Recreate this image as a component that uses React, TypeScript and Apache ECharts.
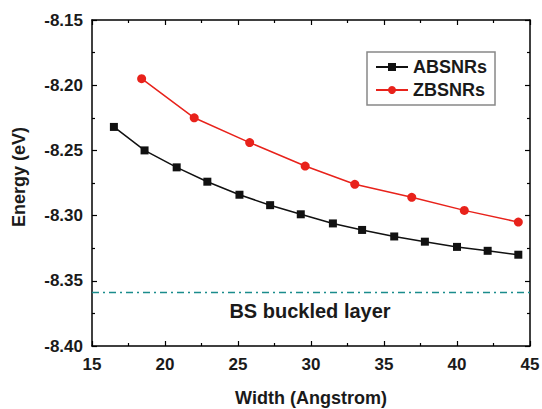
import React, { useEffect, useRef } from "react";
import * as echarts from "echarts";

const abWidth = [16.5, 18.6, 20.8, 22.9, 25.1, 27.2, 29.3, 31.5, 33.5, 35.7, 37.8, 40.0, 42.1, 44.2];
const abEnergy = [-8.232, -8.25, -8.263, -8.274, -8.284, -8.292, -8.299, -8.306, -8.311, -8.316, -8.32, -8.324, -8.327, -8.33];
const zbWidth = [18.4, 22.0, 25.8, 29.6, 33.0, 36.9, 40.5, 44.2];
const zbEnergy = [-8.195, -8.225, -8.244, -8.262, -8.276, -8.286, -8.296, -8.305];
const layerEnergy = -8.359;
const xRange = [15, 45];
const yRange = [-8.4, -8.15];

const FONT = "'Liberation Sans', Arial, sans-serif";

export default function App() {
  const ref = useRef<HTMLDivElement>(null);
  useEffect(() => {
    if (!ref.current) return;
    const chart = echarts.init(ref.current, undefined, { renderer: "svg" });
    const axisLine = { show: true, onZero: false, lineStyle: { color: "#000", width: 1.5 } };
    const tick = { show: true, inside: true, length: 5, lineStyle: { color: "#000", width: 1.2 } };
    const minor = { show: true, splitNumber: 2, length: 3, lineStyle: { color: "#000", width: 1.2 } };
    const label = { fontFamily: FONT, fontWeight: "bold" as const, fontSize: 17, color: "#1a1a1a" };
    chart.setOption({
      animation: false,
      backgroundColor: "#fff",
      grid: { left: 92, right: 12, top: 20, bottom: 63, containLabel: false, outerBoundsMode: "none" },
      legend: {
        left: 367,
        top: 52,
        orient: "vertical",
        data: ["ABSNRs", "ZBSNRs"],
        borderColor: "#888",
        borderWidth: 1.5,
        borderRadius: 0,
        padding: [6, 8, 6, 8],
        itemGap: 5,
        itemWidth: 32,
        itemHeight: 10,
        textStyle: { fontFamily: FONT, fontWeight: "bold", fontSize: 18, color: "#1a1a1a" },
      },
      xAxis: [
        {
          type: "value",
          min: xRange[0],
          max: xRange[1],
          interval: 5,
          position: "bottom",
          name: "Width (Angstrom)",
          nameLocation: "middle",
          nameGap: 43,
          nameTextStyle: { fontFamily: FONT, fontWeight: "bold", fontSize: 18, color: "#1a1a1a" },
          axisLine,
          axisTick: tick,
          minorTick: minor,
          splitLine: { show: false },
          axisLabel: { ...label, margin: 10 },
        },
        {
          type: "value",
          min: xRange[0],
          max: xRange[1],
          interval: 5,
          position: "top",
          axisLine,
          axisTick: tick,
          minorTick: minor,
          splitLine: { show: false },
          axisLabel: { show: false },
        },
      ],
      yAxis: [
        {
          type: "value",
          min: yRange[0],
          max: yRange[1],
          interval: 0.05,
          position: "left",
          name: "Energy (eV)",
          nameLocation: "middle",
          nameGap: 64,
          nameTextStyle: {
            fontFamily: FONT,
            fontWeight: "bold",
            fontSize: 18,
            color: "#1a1a1a",
            padding: [0, 0, 0, 12],
          },
          axisLine,
          axisTick: tick,
          minorTick: minor,
          splitLine: { show: false },
          axisLabel: { ...label, margin: 9, formatter: (v: number) => v.toFixed(2) },
        },
        {
          type: "value",
          min: yRange[0],
          max: yRange[1],
          interval: 0.05,
          position: "right",
          axisLine,
          axisTick: tick,
          minorTick: minor,
          splitLine: { show: false },
          axisLabel: { show: false },
        },
      ],
      series: [
        {
          name: "ABSNRs",
          type: "line",
          data: abWidth.map((x, i) => [x, abEnergy[i]]),
          symbol: "rect",
          symbolSize: 8,
          color: "#111",
          lineStyle: { color: "#111", width: 1.5 },
          itemStyle: { color: "#111" },
        },
        {
          name: "ZBSNRs",
          type: "line",
          data: zbWidth.map((x, i) => [x, zbEnergy[i]]),
          symbol: "circle",
          symbolSize: 9,
          color: "#e8221b",
          lineStyle: { color: "#e8221b", width: 1.5 },
          itemStyle: { color: "#e8221b" },
        },
        {
          name: "BS buckled layer",
          type: "line",
          data: [
            [xRange[0], layerEnergy],
            [xRange[1], layerEnergy],
          ],
          symbol: "none",
          lineStyle: { color: "#1a8c8c", width: 1.5, type: [7, 4, 2, 4] },
          silent: true,
        },
      ],
      graphic: [
        {
          type: "text",
          x: 310,
          y: 311,
          style: {
            text: "BS buckled layer",
            fontFamily: FONT,
            fontWeight: "bold",
            fontSize: 20,
            fill: "#1a1a1a",
            align: "center",
            verticalAlign: "middle",
          },
        },
      ],
    });
    return () => chart.dispose();
  }, []);
  return (
    <div
      ref={ref}
      style={{ position: "fixed", left: 0, top: 0, width: 542, height: 409, background: "#fff" }}
    />
  );
}
